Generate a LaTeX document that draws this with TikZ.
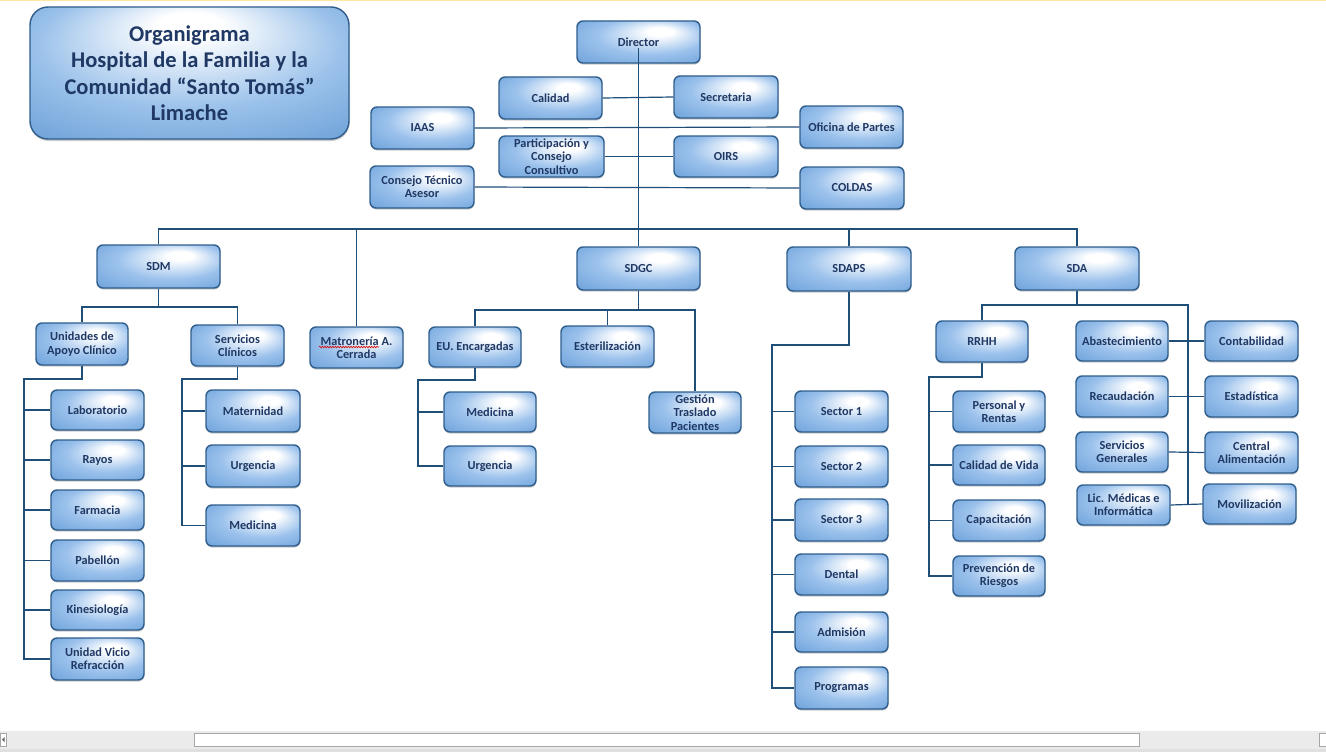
\documentclass[tikz,border=0pt]{standalone}
\usepackage{fontspec}
\setmainfont{Carlito}
\usetikzlibrary{shadows,decorations.pathmorphing}
\definecolor{bxdark}{HTML}{5894D3}
\definecolor{bxmid}{HTML}{9CC2EC}
\definecolor{bxline}{HTML}{2F5D8C}
\definecolor{txtblue}{HTML}{1F3864}
\definecolor{conn}{HTML}{1F4E79}
\definecolor{ttdark}{HTML}{4F8BCB}
\definecolor{ttmid}{HTML}{9AC1EA}
\pgfdeclareradialshading{boxshade}{\pgfpoint{10bp}{14bp}}{color(0bp)=(white); color(5bp)=(white); color(22bp)=(bxmid); color(46bp)=(bxdark)}
\pgfdeclareradialshading{titleshade}{\pgfpoint{0bp}{20bp}}{color(0bp)=(white); color(5bp)=(white); color(24bp)=(ttmid); color(50bp)=(ttdark)}
\tikzset{
  bx/.style={draw=bxline, line width=1.4pt, rounded corners=6pt, shading=boxshade,
    font=\bfseries\fontsize{12.3}{13.4}\selectfont, text=txtblue, align=center, inner sep=1pt,
    drop shadow={shadow xshift=0.3pt, shadow yshift=-1.6pt, opacity=0.4}},
  sz/.style 2 args={minimum width=#1pt, minimum height=#2pt},
  ln/.style={draw=conn, line width=1.2pt},
}
\begin{document}
\begin{tikzpicture}[x=1pt,y=-1pt]
\useasboundingbox (0,0) rectangle (1326,752);
\fill[white] (0,0) rectangle (1326,752);
\fill[yellow!55!orange!35] (0,0) rectangle (1326,1.5);
% title
\node[draw=bxline, line width=1.4pt, rounded corners=18pt, shading=titleshade, sz={319}{132},
  font=\bfseries\fontsize{22.5}{26.5}\selectfont, text=txtblue, align=center,
  drop shadow={shadow xshift=0.5pt, shadow yshift=-2pt, opacity=0.4}] (title) at (189.5,73)
  {Organigrama\\Hospital de la Familia y la\\Comunidad “Santo Tomás”\\Limache};
% top level
\node[bx, sz={123}{42}] (dir) at (638.5,42) {Director};
\node[bx, sz={103}{42}] (cal) at (550.5,98) {Calidad};
\node[bx, sz={104}{42}] (sec) at (726,97) {Secretaria};
\node[bx, sz={103}{42}] (iaas) at (422.5,128) {IAAS};
\node[bx, sz={103}{42}] (ofi) at (851.5,127) {Oficina de Partes};
\node[bx, sz={105}{41}] (par) at (551.5,156.5) {Participación y\\Consejo\\Consultivo};
\node[bx, sz={104}{41}] (oirs) at (726,156.5) {OIRS};
\node[bx, sz={104}{42}] (cta) at (422,187) {Consejo Técnico\\Asesor};
\node[bx, sz={104}{42}] (col) at (852,188) {COLDAS};
% second level
\node[bx, sz={123}{43}] (sdm) at (158.5,266.5) {SDM};
\node[bx, sz={123}{43}] (sdgc) at (638.5,268.5) {SDGC};
\node[bx, sz={124}{44}] (sdaps) at (849,269) {SDAPS};
\node[bx, sz={124}{43}] (sda) at (1077,268.5) {SDA};
\node[bx, sz={93}{41}] (mat) at (356.5,347.5) {Matronería A.\\Cerrada};
% SDM branch
\node[bx, sz={92}{42}] (uac) at (82,344) {Unidades de\\Apoyo Clínico};
\node[bx, sz={93}{41}] (sc) at (237.5,345.5) {Servicios\\Clínicos};
\node[bx, sz={93}{40}] (lab) at (97.5,410) {Laboratorio};
\node[bx, sz={93}{40}] (ray) at (97.5,460) {Rayos};
\node[bx, sz={93}{40}] (far) at (97.5,510) {Farmacia};
\node[bx, sz={93}{41}] (pab) at (97.5,560.5) {Pabellón};
\node[bx, sz={93}{40}] (kin) at (97.5,610) {Kinesiología};
\node[bx, sz={93}{42}] (uvr) at (97.5,659) {Unidad Vicio\\Refracción};
\node[bx, sz={94}{42}] (mtn) at (253,411) {Maternidad};
\node[bx, sz={94}{42}] (urg) at (253,466) {Urgencia};
\node[bx, sz={94}{41}] (med) at (253,525.5) {Medicina};
% SDGC branch
\node[bx, sz={92}{40}] (eu) at (475,347) {EU. Encargadas};
\node[bx, sz={93}{41}] (est) at (607.5,346.5) {Esterilización};
\node[bx, sz={92}{41}] (gtp) at (695,412.5) {Gestión\\Traslado\\Pacientes};
\node[bx, sz={92}{40}] (medb) at (490,412) {Medicina};
\node[bx, sz={92}{40}] (urgb) at (490,466) {Urgencia};
% SDAPS branch
\node[bx, sz={93}{41}] (s1) at (841.5,411.5) {Sector 1};
\node[bx, sz={93}{41}] (s2) at (841.5,466.5) {Sector 2};
\node[bx, sz={93}{42}] (s3) at (841.5,520) {Sector 3};
\node[bx, sz={93}{41}] (den) at (841.5,574.5) {Dental};
\node[bx, sz={93}{40}] (adm) at (841.5,632) {Admisión};
\node[bx, sz={93}{42}] (prog) at (841.5,688) {Programas};
% SDA branch
\node[bx, sz={92}{41}] (rrhh) at (982,341.5) {RRHH};
\node[bx, sz={92}{41}] (pyr) at (999,411.5) {Personal y\\Rentas};
\node[bx, sz={92}{40}] (cdv) at (999,465) {Calidad de Vida};
\node[bx, sz={92}{41}] (cap) at (999,520.5) {Capacitación};
\node[bx, sz={92}{40}] (prv) at (999,576) {Prevención de\\Riesgos};
\node[bx, sz={92}{40}] (aba) at (1122,341) {Abastecimiento};
\node[bx, sz={93}{40}] (con) at (1251.5,341) {Contabilidad};
\node[bx, sz={92}{41}] (rec) at (1122,396.5) {Recaudación};
\node[bx, sz={93}{41}] (esta) at (1251.5,396.5) {Estadística};
\node[bx, sz={92}{40}] (sg) at (1122,452) {Servicios\\Generales};
\node[bx, sz={93}{41}] (ca) at (1251.5,452.5) {Central\\Alimentación};
\node[bx, sz={93}{40}] (lic) at (1123.5,505) {Lic. Médicas e\\Informática};
\node[bx, sz={93}{40}] (mov) at (1249.5,504) {Movilización};
% helper coordinates
\coordinate (ybus) at (0,229);
\coordinate (ya) at (0,307);
\coordinate (yb) at (0,310);
\coordinate (yc) at (0,305);
\coordinate (uacv) at (24,379);
\coordinate (scv) at (182,379);
\coordinate (euv) at (418,380);
\coordinate (spv) at (772,345);
\coordinate (rrv) at (929,377);
\coordinate (sdav) at (1188,305);
% connectors top
\draw[ln] ([yshift=-6pt]dir.center) -- (dir.center |- sdgc.north);
\draw[ln] (cal.east) -- (sec.west);
\draw[ln] (iaas.east) -- (ofi.west);
\draw[ln] (par.east) -- (oirs.west);
\draw[ln] (cta.east) -- (col.west);
\draw[ln] (sdm.north) -- (sdm.north |- ybus) -- (sda.north |- ybus) -- (sda.north);
\draw[ln] (mat.north) -- (mat.north |- ybus);
\draw[ln] (sdaps.north) -- (sdaps.north |- ybus);
% SDM
\draw[ln] (sdm.south) -- (sdm.south |- ya);
\draw[ln] (uac.north) |- (sc.north |- ya) -- (sc.north);
\draw[ln] (uac.south) |- (uacv) |- (uvr.west);
\foreach \n in {lab,ray,far,pab,kin} \draw[ln] (uacv |- \n.west) -- (\n.west);
\draw[ln] (sc.south) |- (scv) |- (med.west);
\foreach \n in {mtn,urg} \draw[ln] (scv |- \n.west) -- (\n.west);
% SDGC
\draw[ln] (sdgc.south) -- (sdgc.south |- yb);
\draw[ln] (eu.north) |- (gtp.north |- yb) -- (gtp.north);
\draw[ln] (est.north) -- (est.north |- yb);
\draw[ln] (eu.south) |- (euv) |- (urgb.west);
\draw[ln] (euv |- medb.west) -- (medb.west);
% SDAPS
\draw[ln] (sdaps.south) |- (spv) |- (prog.west);
\foreach \n in {s1,s2,s3,den,adm} \draw[ln] (spv |- \n.west) -- (\n.west);
% SDA
\draw[ln] (sda.south) -- (sda.south |- yc);
\draw[ln] (rrhh.north) |- (sdav) -- (sdav |- lic.east);
\draw[ln] (aba.east) -- (con.west);
\draw[ln] (rec.east) -- (esta.west);
\draw[ln] (sg.east) -- (ca.west);
\draw[ln] (lic.east) -- (mov.west);
\draw[ln] (rrhh.south) |- (rrv) |- (prv.west);
\foreach \n in {pyr,cdv,cap} \draw[ln] (rrv |- \n.west) -- (\n.west);
% spell-check squiggle
\draw[red!85!black, line width=0.6pt, decorate, decoration={snake, amplitude=0.8pt, segment length=2.6pt}] (319,347) -- (379,347);
% scrollbar
\fill[black!8] (0,731) rectangle (1326,749);
\draw[black!35, fill=white, line width=0.8pt] (194,733) rectangle (1139,746);
\draw[black!35, fill=white, line width=0.8pt] (0.5,733) rectangle (6,746);
\draw[black!35, fill=white, line width=0.8pt] (1319,733) rectangle (1326,746);
\fill[black!60] (4.5,737) -- (2,739.5) -- (4.5,742) -- cycle;
\fill[black!12] (0,749) rectangle (1326,752);
\end{tikzpicture}
\end{document}
